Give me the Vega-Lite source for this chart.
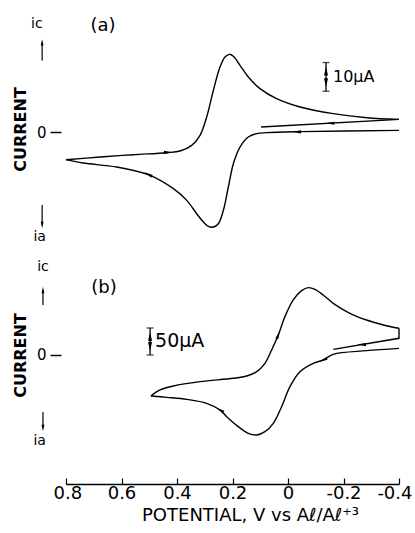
{
  "$schema": "https://vega.github.io/schema/vega-lite/v6.json",
  "padding": {"left": 12, "top": 10, "right": 0, "bottom": 0},
  "spacing": 8,
  "config": {
    "view": {"stroke": null},
    "font": "DejaVu Sans",
    "text": {"font": "DejaVu Sans", "color": "black"}
  },
  "datasets": {
    "curves": [
      {"p":"a","s":"u","o":0,"V":0.80,"I":-9.64},
      {"p":"a","s":"u","o":1,"V":0.677,"I":-8.71},
      {"p":"a","s":"u","o":2,"V":0.557,"I":-7.90},
      {"p":"a","s":"u","o":3,"V":0.437,"I":-7.20},
      {"p":"a","s":"u","o":4,"V":0.389,"I":-6.62},
      {"p":"a","s":"u","o":5,"V":0.347,"I":-4.65},
      {"p":"a","s":"u","o":6,"V":0.317,"I":-1.16},
      {"p":"a","s":"u","o":7,"V":0.293,"I":5.23},
      {"p":"a","s":"u","o":8,"V":0.269,"I":14.52},
      {"p":"a","s":"u","o":9,"V":0.245,"I":22.65},
      {"p":"a","s":"u","o":10,"V":0.227,"I":26.13},
      {"p":"a","s":"u","o":11,"V":0.211,"I":27.06},
      {"p":"a","s":"u","o":12,"V":0.197,"I":26.36},
      {"p":"a","s":"u","o":13,"V":0.173,"I":23.23},
      {"p":"a","s":"u","o":14,"V":0.143,"I":19.16},
      {"p":"a","s":"u","o":15,"V":0.101,"I":15.10},
      {"p":"a","s":"u","o":16,"V":0.041,"I":11.61},
      {"p":"a","s":"u","o":17,"V":-0.043,"I":8.71},
      {"p":"a","s":"u","o":18,"V":-0.163,"I":6.39},
      {"p":"a","s":"u","o":19,"V":-0.284,"I":4.99},
      {"p":"a","s":"u","o":20,"V":-0.40,"I":4.41},
      {"p":"a","s":"v","o":0,"V":-0.40,"I":4.41},
      {"p":"a","s":"v","o":1,"V":0.097,"I":1.74},
      {"p":"a","s":"l","o":0,"V":-0.40,"I":0.58},
      {"p":"a","s":"l","o":1,"V":-0.043,"I":0.12},
      {"p":"a","s":"l","o":2,"V":0.077,"I":-0.23},
      {"p":"a","s":"l","o":3,"V":0.113,"I":-0.58},
      {"p":"a","s":"l","o":4,"V":0.143,"I":-1.74},
      {"p":"a","s":"l","o":5,"V":0.173,"I":-5.23},
      {"p":"a","s":"l","o":6,"V":0.197,"I":-11.03},
      {"p":"a","s":"l","o":7,"V":0.215,"I":-19.16},
      {"p":"a","s":"l","o":8,"V":0.233,"I":-27.29},
      {"p":"a","s":"l","o":9,"V":0.251,"I":-31.94},
      {"p":"a","s":"l","o":10,"V":0.269,"I":-33.10},
      {"p":"a","s":"l","o":11,"V":0.287,"I":-32.87},
      {"p":"a","s":"l","o":12,"V":0.305,"I":-31.36},
      {"p":"a","s":"l","o":13,"V":0.329,"I":-28.46},
      {"p":"a","s":"l","o":14,"V":0.365,"I":-23.81},
      {"p":"a","s":"l","o":15,"V":0.413,"I":-19.74},
      {"p":"a","s":"l","o":16,"V":0.497,"I":-15.10},
      {"p":"a","s":"l","o":17,"V":0.617,"I":-12.20},
      {"p":"a","s":"l","o":18,"V":0.738,"I":-10.80},
      {"p":"a","s":"l","o":19,"V":0.80,"I":-9.64},
      {"p":"b","s":"u","o":0,"V":0.494,"I":-75.9},
      {"p":"b","s":"u","o":1,"V":0.461,"I":-64.8},
      {"p":"b","s":"u","o":2,"V":0.413,"I":-57.4},
      {"p":"b","s":"u","o":3,"V":0.317,"I":-49.4},
      {"p":"b","s":"u","o":4,"V":0.197,"I":-43.2},
      {"p":"b","s":"u","o":5,"V":0.149,"I":-38.9},
      {"p":"b","s":"u","o":6,"V":0.113,"I":-30.9},
      {"p":"b","s":"u","o":7,"V":0.083,"I":-15.4},
      {"p":"b","s":"u","o":8,"V":0.059,"I":9.3},
      {"p":"b","s":"u","o":9,"V":0.035,"I":37.0},
      {"p":"b","s":"u","o":10,"V":0.011,"I":71.0},
      {"p":"b","s":"u","o":11,"V":-0.019,"I":101.9},
      {"p":"b","s":"u","o":12,"V":-0.049,"I":119.1},
      {"p":"b","s":"u","o":13,"V":-0.073,"I":124.7},
      {"p":"b","s":"u","o":14,"V":-0.097,"I":121.6},
      {"p":"b","s":"u","o":15,"V":-0.127,"I":111.1},
      {"p":"b","s":"u","o":16,"V":-0.163,"I":95.7},
      {"p":"b","s":"u","o":17,"V":-0.223,"I":77.2},
      {"p":"b","s":"u","o":18,"V":-0.283,"I":64.8},
      {"p":"b","s":"u","o":19,"V":-0.344,"I":55.6},
      {"p":"b","s":"u","o":20,"V":-0.40,"I":49.4},
      {"p":"b","s":"v","o":0,"V":-0.40,"I":49.4},
      {"p":"b","s":"v","o":1,"V":-0.40,"I":30.9},
      {"p":"b","s":"v","o":2,"V":-0.163,"I":10.5},
      {"p":"b","s":"l","o":0,"V":-0.40,"I":12.3},
      {"p":"b","s":"l","o":1,"V":-0.283,"I":8.0},
      {"p":"b","s":"l","o":2,"V":-0.163,"I":1.2},
      {"p":"b","s":"l","o":3,"V":-0.127,"I":-9.3},
      {"p":"b","s":"l","o":4,"V":-0.091,"I":-15.4},
      {"p":"b","s":"l","o":5,"V":-0.043,"I":-30.9},
      {"p":"b","s":"l","o":6,"V":-0.007,"I":-58.6},
      {"p":"b","s":"l","o":7,"V":0.023,"I":-95.7},
      {"p":"b","s":"l","o":8,"V":0.053,"I":-126.5},
      {"p":"b","s":"l","o":9,"V":0.083,"I":-142.0},
      {"p":"b","s":"l","o":10,"V":0.113,"I":-148.1},
      {"p":"b","s":"l","o":11,"V":0.143,"I":-145.1},
      {"p":"b","s":"l","o":12,"V":0.179,"I":-132.7},
      {"p":"b","s":"l","o":13,"V":0.221,"I":-114.2},
      {"p":"b","s":"l","o":14,"V":0.245,"I":-101.9},
      {"p":"b","s":"l","o":15,"V":0.293,"I":-89.5},
      {"p":"b","s":"l","o":16,"V":0.365,"I":-82.1},
      {"p":"b","s":"l","o":17,"V":0.437,"I":-78.4},
      {"p":"b","s":"l","o":18,"V":0.494,"I":-75.9}
    ],
    "arrows": [
      {"p":"a","V":0.431,"I":-7.08,"dir":"right"},
      {"p":"a","V":-0.151,"I":3.07,"dir":"left"},
      {"p":"a","V":-0.031,"I":0.05,"dir":"left"},
      {"p":"a","V":0.503,"I":-14.75,"dir":"upleft"},
      {"p":"a","V":-0.137,"I":21.2,"dir":"up"},
      {"p":"a","V":-0.137,"I":17.2,"dir":"down"},
      {"p":"b","V":0.035,"I":37.0,"dir":"upright"},
      {"p":"b","V":-0.265,"I":19.3,"dir":"left"},
      {"p":"b","V":-0.127,"I":-9.3,"dir":"downleft"},
      {"p":"b","V":0.245,"I":-101.9,"dir":"upleft"},
      {"p":"b","V":0.497,"I":34,"dir":"up"},
      {"p":"b","V":0.497,"I":16,"dir":"down"}
    ],
    "pointers": [
      {"p":"a","V":0.886,"I":24.9,"I2":31.2,"dir":"up"},
      {"p":"a","V":0.886,"I":-25.4,"I2":-32.4,"dir":"down"},
      {"p":"b","V":0.883,"I":92.6,"I2":120.4,"dir":"up"},
      {"p":"b","V":0.883,"I":-105.6,"I2":-135.2,"dir":"down"}
    ],
    "bars": [
      {"p":"a","V":-0.137,"I":14.2,"I2":24.2},
      {"p":"b","V":0.497,"I":0,"I2":50}
    ],
    "labels": [
      {"p":"a","k":"panel","V":0.667,"I":36.9,"t":"(a)"},
      {"p":"a","k":"cur","V":0.905,"I":37.6,"t":"ic"},
      {"p":"a","k":"cur","V":0.895,"I":-36.6,"t":"ia"},
      {"p":"a","k":"scale","V":-0.162,"I":19.2,"t":"10µA"},
      {"p":"b","k":"panel","V":0.663,"I":124,"t":"(b)"},
      {"p":"b","k":"cur","V":0.883,"I":163,"t":"ic"},
      {"p":"b","k":"cur","V":0.895,"I":-159,"t":"ia"},
      {"p":"b","k":"scale","V":0.479,"I":25,"t":"50µA"}
    ]
  },
  "vconcat": [
    {
      "width": 333,
      "height": 240,
      "layer": [
        {
          "data": {"name": "curves"},
          "transform": [{"filter": "datum.p == 'a' && datum.s != 'v'"}],
          "mark": {"type": "line", "color": "black", "strokeWidth": 1.4, "interpolate": "catmull-rom"},
          "encoding": {
            "x": {"field": "V", "type": "quantitative", "scale": {"domain": [-0.4, 0.8], "reverse": true, "nice": false, "zero": false}, "axis": null},
            "y": {"field": "I", "type": "quantitative", "scale": {"domain": [-41.1, 42.5], "nice": false, "zero": false},
              "axis": {"values": [0], "labelExpr": "'0'", "grid": false, "domain": false, "offset": 5, "tickSize": 11, "tickColor": "black", "tickWidth": 1.5, "labelPadding": 4, "labelFontSize": 15, "labelColor": "black", "labelFont": "DejaVu Sans",
                "title": "CURRENT", "titleFontSize": 16, "titleFont": "DejaVu Sans", "titleFontWeight": "bold", "titleColor": "black", "titlePadding": 8, "titleY": 119}},
            "detail": {"field": "s"},
            "order": {"field": "o", "type": "quantitative"}
          }
        },
        {
          "data": {"name": "curves"},
          "transform": [{"filter": "datum.p == 'a' && datum.s == 'v'"}],
          "mark": {"type": "line", "color": "black", "strokeWidth": 1.4},
          "encoding": {
            "x": {"field": "V", "type": "quantitative", "scale": {"domain": [-0.4, 0.8], "reverse": true, "nice": false, "zero": false}},
            "y": {"field": "I", "type": "quantitative", "scale": {"domain": [-41.1, 42.5], "nice": false, "zero": false}},
            "order": {"field": "o", "type": "quantitative"}
          }
        },
        {
          "data": {"name": "arrows"},
          "transform": [{"filter": "datum.p == 'a'"}],
          "mark": {"type": "point", "filled": true, "color": "black", "opacity": 1},
          "encoding": {
            "x": {"field": "V", "type": "quantitative", "scale": {"domain": [-0.4, 0.8], "reverse": true, "nice": false, "zero": false}},
            "y": {"field": "I", "type": "quantitative", "scale": {"domain": [-41.1, 42.5], "nice": false, "zero": false}},
            "shape": {"field": "dir", "type": "nominal", "legend": null, "scale": {"domain": ["left","right","upleft","upright","downleft","up","down"], "range": ["M-1,0L1,-0.35L1,0.35Z","M1,0L-1,-0.35L-1,0.35Z","M-0.78,-0.45L0.96,0.15L0.61,0.76Z","M0.33,-0.84L0,0.97L-0.66,0.71Z","M-0.82,0.37L0.96,-0.05L0.68,-0.69Z","M0,-1L-0.45,1L0.45,1Z","M0,1L-0.45,-1L0.45,-1Z"]}},
            "size": {"value": 80}
          }
        },
        {
          "data": {"name": "pointers"},
          "transform": [{"filter": "datum.p == 'a'"}],
          "mark": {"type": "rule", "color": "black", "strokeWidth": 1.2},
          "encoding": {
            "x": {"field": "V", "type": "quantitative", "scale": {"domain": [-0.4, 0.8], "reverse": true, "nice": false, "zero": false}},
            "y": {"field": "I", "type": "quantitative", "scale": {"domain": [-41.1, 42.5], "nice": false, "zero": false}},
            "y2": {"field": "I2"}
          }
        },
        {
          "data": {"name": "pointers"},
          "transform": [{"filter": "datum.p == 'a'"}],
          "mark": {"type": "point", "filled": true, "color": "black", "opacity": 1},
          "encoding": {
            "x": {"field": "V", "type": "quantitative", "scale": {"domain": [-0.4, 0.8], "reverse": true, "nice": false, "zero": false}},
            "y": {"field": "I2", "type": "quantitative", "scale": {"domain": [-41.1, 42.5], "nice": false, "zero": false}},
            "shape": {"field": "dir", "type": "nominal", "legend": null, "scale": {"domain": ["left","right","upleft","upright","downleft","up","down"], "range": ["M-1,0L1,-0.35L1,0.35Z","M1,0L-1,-0.35L-1,0.35Z","M-0.78,-0.45L0.96,0.15L0.61,0.76Z","M0.33,-0.84L0,0.97L-0.66,0.71Z","M-0.82,0.37L0.96,-0.05L0.68,-0.69Z","M0,-1L-0.45,1L0.45,1Z","M0,1L-0.45,-1L0.45,-1Z"]}},
            "size": {"value": 40}
          }
        },
        {
          "data": {"name": "bars"},
          "transform": [{"filter": "datum.p == 'a'"}],
          "mark": {"type": "rule", "color": "black", "strokeWidth": 1.3},
          "encoding": {
            "x": {"field": "V", "type": "quantitative", "scale": {"domain": [-0.4, 0.8], "reverse": true, "nice": false, "zero": false}},
            "y": {"field": "I", "type": "quantitative", "scale": {"domain": [-41.1, 42.5], "nice": false, "zero": false}},
            "y2": {"field": "I2"}
          }
        },
        {
          "data": {"name": "bars"},
          "transform": [{"filter": "datum.p == 'a'"}, {"fold": ["I", "I2"], "as": ["end", "Iend"]}],
          "mark": {"type": "tick", "orient": "horizontal", "color": "black", "thickness": 1.3, "size": 7},
          "encoding": {
            "x": {"field": "V", "type": "quantitative", "scale": {"domain": [-0.4, 0.8], "reverse": true, "nice": false, "zero": false}},
            "y": {"field": "Iend", "type": "quantitative", "scale": {"domain": [-41.1, 42.5], "nice": false, "zero": false}}
          }
        },
        {
          "data": {"name": "labels"},
          "transform": [{"filter": "datum.p == 'a' && datum.k == 'panel'"}],
          "mark": {"type": "text", "fontSize": 18, "align": "center", "baseline": "middle"},
          "encoding": {
            "x": {"field": "V", "type": "quantitative", "scale": {"domain": [-0.4, 0.8], "reverse": true, "nice": false, "zero": false}},
            "y": {"field": "I", "type": "quantitative", "scale": {"domain": [-41.1, 42.5], "nice": false, "zero": false}},
            "text": {"field": "t"}
          }
        },
        {
          "data": {"name": "labels"},
          "transform": [{"filter": "datum.p == 'a' && datum.k == 'cur'"}],
          "mark": {"type": "text", "fontSize": 14, "align": "center", "baseline": "middle"},
          "encoding": {
            "x": {"field": "V", "type": "quantitative", "scale": {"domain": [-0.4, 0.8], "reverse": true, "nice": false, "zero": false}},
            "y": {"field": "I", "type": "quantitative", "scale": {"domain": [-41.1, 42.5], "nice": false, "zero": false}},
            "text": {"field": "t"}
          }
        },
        {
          "data": {"name": "labels"},
          "transform": [{"filter": "datum.p == 'a' && datum.k == 'scale'"}],
          "mark": {"type": "text", "fontSize": 16, "align": "left", "baseline": "middle"},
          "encoding": {
            "x": {"field": "V", "type": "quantitative", "scale": {"domain": [-0.4, 0.8], "reverse": true, "nice": false, "zero": false}},
            "y": {"field": "I", "type": "quantitative", "scale": {"domain": [-41.1, 42.5], "nice": false, "zero": false}},
            "text": {"field": "t"}
          }
        }
      ]
    },
    {
      "width": 333,
      "height": 226,
      "layer": [
        {
          "data": {"name": "curves"},
          "transform": [{"filter": "datum.p == 'b' && datum.s != 'v'"}],
          "mark": {"type": "line", "color": "black", "strokeWidth": 1.4, "interpolate": "catmull-rom"},
          "encoding": {
            "x": {"field": "V", "type": "quantitative", "scale": {"domain": [-0.4, 0.8], "reverse": true, "nice": false, "zero": false},
              "axis": {"values": [0.8, 0.6, 0.4, 0.2, 0, -0.2, -0.4], "labelExpr": "datum.value == 0 ? '0' : replace(format(datum.value, '.1f'), '\u2212', '-')", "grid": false, "domain": true, "domainColor": "black", "domainWidth": 1.5, "tickSize": -6, "tickColor": "black", "tickWidth": 1.2, "labelPadding": 6, "labelFontSize": 18, "labelColor": "black", "labelFont": "DejaVu Sans", "labelFlush": true, "labelFlushOffset": 13, "labelOverlap": false,
                "title": "POTENTIAL, V vs Aℓ/Aℓ⁺³", "titleFontSize": 18, "titleFont": "DejaVu Sans", "titleFontWeight": "normal", "titleColor": "black", "titlePadding": 4, "titleX": 184, "titleAnchor": "middle"}},
            "y": {"field": "I", "type": "quantitative", "scale": {"domain": [-238.9, 179.6], "nice": false, "zero": false},
              "axis": {"values": [0], "labelExpr": "'0'", "grid": false, "domain": false, "offset": 5, "tickSize": 11, "tickColor": "black", "tickWidth": 1.5, "labelPadding": 4, "labelFontSize": 15, "labelColor": "black", "labelFont": "DejaVu Sans",
                "title": "CURRENT", "titleFontSize": 16, "titleFont": "DejaVu Sans", "titleFontWeight": "bold", "titleColor": "black", "titlePadding": 8, "titleY": 97}},
            "detail": {"field": "s"},
            "order": {"field": "o", "type": "quantitative"}
          }
        },
        {
          "data": {"name": "curves"},
          "transform": [{"filter": "datum.p == 'b' && datum.s == 'v'"}],
          "mark": {"type": "line", "color": "black", "strokeWidth": 1.4},
          "encoding": {
            "x": {"field": "V", "type": "quantitative", "scale": {"domain": [-0.4, 0.8], "reverse": true, "nice": false, "zero": false}},
            "y": {"field": "I", "type": "quantitative", "scale": {"domain": [-238.9, 179.6], "nice": false, "zero": false}},
            "order": {"field": "o", "type": "quantitative"}
          }
        },
        {
          "data": {"name": "arrows"},
          "transform": [{"filter": "datum.p == 'b'"}],
          "mark": {"type": "point", "filled": true, "color": "black", "opacity": 1},
          "encoding": {
            "x": {"field": "V", "type": "quantitative", "scale": {"domain": [-0.4, 0.8], "reverse": true, "nice": false, "zero": false}},
            "y": {"field": "I", "type": "quantitative", "scale": {"domain": [-238.9, 179.6], "nice": false, "zero": false}},
            "shape": {"field": "dir", "type": "nominal", "legend": null, "scale": {"domain": ["left","right","upleft","upright","downleft","up","down"], "range": ["M-1,0L1,-0.35L1,0.35Z","M1,0L-1,-0.35L-1,0.35Z","M-0.78,-0.45L0.96,0.15L0.61,0.76Z","M0.33,-0.84L0,0.97L-0.66,0.71Z","M-0.82,0.37L0.96,-0.05L0.68,-0.69Z","M0,-1L-0.45,1L0.45,1Z","M0,1L-0.45,-1L0.45,-1Z"]}},
            "size": {"value": 80}
          }
        },
        {
          "data": {"name": "pointers"},
          "transform": [{"filter": "datum.p == 'b'"}],
          "mark": {"type": "rule", "color": "black", "strokeWidth": 1.2},
          "encoding": {
            "x": {"field": "V", "type": "quantitative", "scale": {"domain": [-0.4, 0.8], "reverse": true, "nice": false, "zero": false}},
            "y": {"field": "I", "type": "quantitative", "scale": {"domain": [-238.9, 179.6], "nice": false, "zero": false}},
            "y2": {"field": "I2"}
          }
        },
        {
          "data": {"name": "pointers"},
          "transform": [{"filter": "datum.p == 'b'"}],
          "mark": {"type": "point", "filled": true, "color": "black", "opacity": 1},
          "encoding": {
            "x": {"field": "V", "type": "quantitative", "scale": {"domain": [-0.4, 0.8], "reverse": true, "nice": false, "zero": false}},
            "y": {"field": "I2", "type": "quantitative", "scale": {"domain": [-238.9, 179.6], "nice": false, "zero": false}},
            "shape": {"field": "dir", "type": "nominal", "legend": null, "scale": {"domain": ["left","right","upleft","upright","downleft","up","down"], "range": ["M-1,0L1,-0.35L1,0.35Z","M1,0L-1,-0.35L-1,0.35Z","M-0.78,-0.45L0.96,0.15L0.61,0.76Z","M0.33,-0.84L0,0.97L-0.66,0.71Z","M-0.82,0.37L0.96,-0.05L0.68,-0.69Z","M0,-1L-0.45,1L0.45,1Z","M0,1L-0.45,-1L0.45,-1Z"]}},
            "size": {"value": 40}
          }
        },
        {
          "data": {"name": "bars"},
          "transform": [{"filter": "datum.p == 'b'"}],
          "mark": {"type": "rule", "color": "black", "strokeWidth": 1.3},
          "encoding": {
            "x": {"field": "V", "type": "quantitative", "scale": {"domain": [-0.4, 0.8], "reverse": true, "nice": false, "zero": false}},
            "y": {"field": "I", "type": "quantitative", "scale": {"domain": [-238.9, 179.6], "nice": false, "zero": false}},
            "y2": {"field": "I2"}
          }
        },
        {
          "data": {"name": "bars"},
          "transform": [{"filter": "datum.p == 'b'"}, {"fold": ["I", "I2"], "as": ["end", "Iend"]}],
          "mark": {"type": "tick", "orient": "horizontal", "color": "black", "thickness": 1.3, "size": 7},
          "encoding": {
            "x": {"field": "V", "type": "quantitative", "scale": {"domain": [-0.4, 0.8], "reverse": true, "nice": false, "zero": false}},
            "y": {"field": "Iend", "type": "quantitative", "scale": {"domain": [-238.9, 179.6], "nice": false, "zero": false}}
          }
        },
        {
          "data": {"name": "labels"},
          "transform": [{"filter": "datum.p == 'b' && datum.k == 'panel'"}],
          "mark": {"type": "text", "fontSize": 18, "align": "center", "baseline": "middle"},
          "encoding": {
            "x": {"field": "V", "type": "quantitative", "scale": {"domain": [-0.4, 0.8], "reverse": true, "nice": false, "zero": false}},
            "y": {"field": "I", "type": "quantitative", "scale": {"domain": [-238.9, 179.6], "nice": false, "zero": false}},
            "text": {"field": "t"}
          }
        },
        {
          "data": {"name": "labels"},
          "transform": [{"filter": "datum.p == 'b' && datum.k == 'cur'"}],
          "mark": {"type": "text", "fontSize": 14, "align": "center", "baseline": "middle"},
          "encoding": {
            "x": {"field": "V", "type": "quantitative", "scale": {"domain": [-0.4, 0.8], "reverse": true, "nice": false, "zero": false}},
            "y": {"field": "I", "type": "quantitative", "scale": {"domain": [-238.9, 179.6], "nice": false, "zero": false}},
            "text": {"field": "t"}
          }
        },
        {
          "data": {"name": "labels"},
          "transform": [{"filter": "datum.p == 'b' && datum.k == 'scale'"}],
          "mark": {"type": "text", "fontSize": 19, "align": "left", "baseline": "middle"},
          "encoding": {
            "x": {"field": "V", "type": "quantitative", "scale": {"domain": [-0.4, 0.8], "reverse": true, "nice": false, "zero": false}},
            "y": {"field": "I", "type": "quantitative", "scale": {"domain": [-238.9, 179.6], "nice": false, "zero": false}},
            "text": {"field": "t"}
          }
        }
      ]
    }
  ]
}
